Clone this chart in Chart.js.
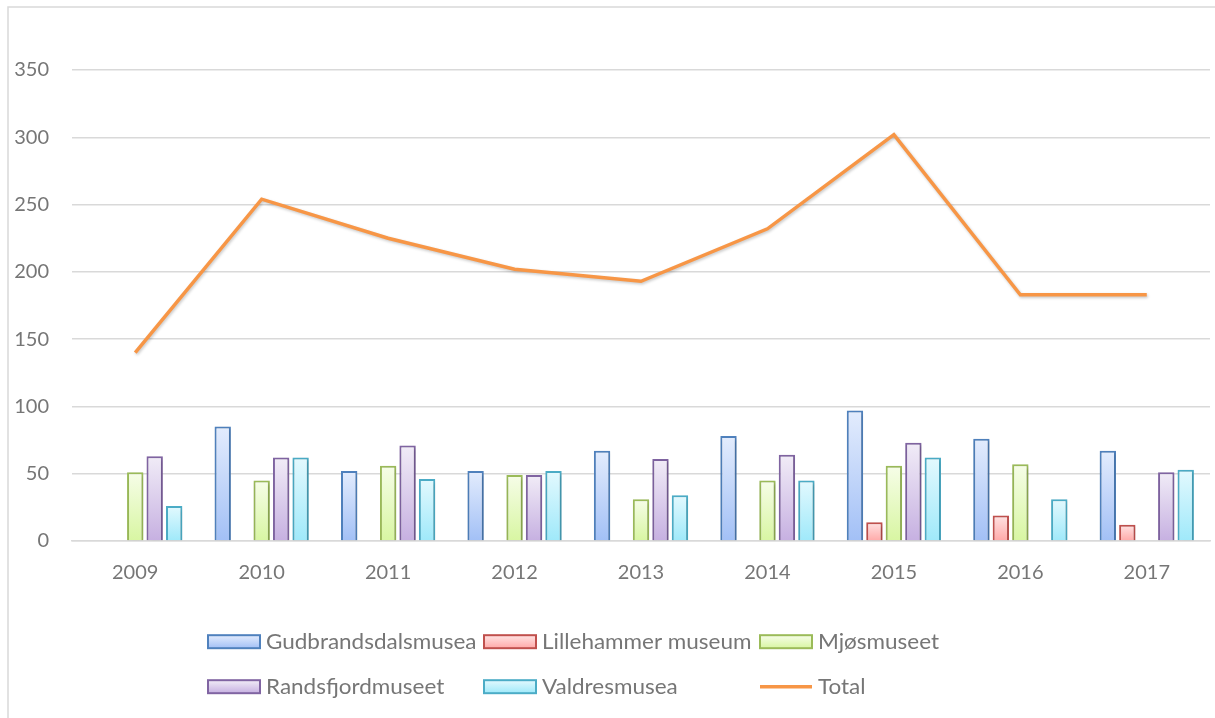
<!DOCTYPE html>
<html>
<head>
<meta charset="utf-8">
<script src="https://cdn.jsdelivr.net/npm/chart.js@4/dist/chart.umd.min.js"></script>
<style>
  html, body { margin: 0; padding: 0; background: #ffffff; }
  #wrap { width: 1215px; height: 718px; position: relative; }
</style>
</head>
<body>
<div id="wrap"><canvas id="c" width="1215" height="718"></canvas></div>
<script>
// ---- data ----
const categories = ['2009', '2010', '2011', '2012', '2013', '2014', '2015', '2016', '2017'];
const gudbrandsdalsmusea = [null, 85, 52, 52, 67, 78, 97, 76, 67];
const lillehammerMuseum  = [null, null, null, null, null, null, 14, 19, 12];
const mjosmuseet         = [51, 45, 56, 49, 31, 45, 56, 57, null];
const randsfjordmuseet   = [63, 62, 71, 49, 61, 64, 73, null, 51];
const valdresmusea       = [26, 62, 46, 52, 34, 45, 62, 31, 53];
const total              = [140, 254, 225, 202, 193, 232, 302, 183, 183];
const seriesNames = ['Gudbrandsdalsmusea', 'Lillehammer museum', 'Mjøsmuseet', 'Randsfjordmuseet', 'Valdresmusea', 'Total'];
const yMin = 0, yMax = 350, yStep = 50;

// ---- styles ----
const barStyles = [
  { top: '#e3ecfd', bottom: '#a2c0f6', border: '#4f81bd' },
  { top: '#ffe3e3', bottom: '#ffa9a8', border: '#c0504d' },
  { top: '#f6fde8', bottom: '#d8f6a2', border: '#9bbb59' },
  { top: '#f1ecf7', bottom: '#c6b0e1', border: '#8064a2' },
  { top: '#e3f9fe', bottom: '#9fe9fa', border: '#4bacc6' }
];
const lineColor = '#f79646';
const FONT = 'Lato, "Open Sans", sans-serif';
const TEXT_COLOR = '#767676';

function gradFill(style) {
  return function (ctx) {
    const chart = ctx.chart;
    const ys = chart.scales && chart.scales.y;
    if (ctx.type !== 'data' || !ys || ctx.raw == null) return style.bottom;
    const yTop = ys.getPixelForValue(ctx.raw);
    const yBot = ys.getPixelForValue(0);
    if (!isFinite(yTop) || !isFinite(yBot) || yTop === yBot) return style.bottom;
    const g = chart.ctx.createLinearGradient(0, yTop, 0, yBot);
    g.addColorStop(0, style.top);
    g.addColorStop(1, style.bottom);
    return g;
  };
}

const barData = [gudbrandsdalsmusea, lillehammerMuseum, mjosmuseet, randsfjordmuseet, valdresmusea];
const datasets = barData.map((d, i) => ({
  type: 'bar',
  label: seriesNames[i],
  data: d,
  backgroundColor: gradFill(barStyles[i]),
  borderColor: barStyles[i].border,
  borderWidth: 2,
  categoryPercentage: 0.77,
  barPercentage: 0.84
}));
datasets.push({
  type: 'line',
  label: seriesNames[5],
  data: total,
  borderColor: lineColor,
  borderWidth: 3.5,
  pointRadius: 0,
  tension: 0,
  fill: false,
  order: -1,
  borderJoinStyle: 'miter'
});

const framePlugin = {
  id: 'frame',
  beforeDraw(chart) {
    const c = chart.ctx;
    c.save();
    c.fillStyle = '#ffffff';
    c.fillRect(0, 0, chart.width, chart.height);
    c.strokeStyle = '#d9d9d9';
    c.lineWidth = 1.5;
    c.beginPath();
    c.moveTo(8, chart.height);
    c.lineTo(8, 7);
    c.lineTo(chart.width, 7);
    c.stroke();
    c.restore();
  }
};

const shadowPlugin = {
  id: 'shadow',
  beforeDatasetDraw(chart) {
    const c = chart.ctx;
    c.save();
    c.shadowColor = 'rgba(0,0,0,0.22)';
    c.shadowBlur = 3;
    c.shadowOffsetX = 1;
    c.shadowOffsetY = 1.5;
  },
  afterDatasetDraw(chart) {
    chart.ctx.restore();
  }
};

const legendPlugin = {
  id: 'gridLegend',
  afterDraw(chart) {
    const c = chart.ctx;
    const cols = [208, 484, 760];
    const rows = [641.7, 686.7];
    const boxW = 52, boxH = 13, textGap = 58, sx = 1.07;
    c.save();
    c.font = '21px ' + FONT;
    c.textBaseline = 'middle';
    chart.data.datasets.forEach((ds, i) => {
      const x = cols[i % 3];
      const y = rows[Math.floor(i / 3)];
      if (ds.type === 'line') {
        c.strokeStyle = ds.borderColor;
        c.lineWidth = 3.5;
        c.beginPath();
        c.moveTo(x, y);
        c.lineTo(x + boxW, y);
        c.stroke();
      } else {
        const st = barStyles[i];
        const g = c.createLinearGradient(0, y - boxH / 2, 0, y + boxH / 2);
        g.addColorStop(0, st.top);
        g.addColorStop(1, st.bottom);
        c.fillStyle = g;
        c.fillRect(x, y - boxH / 2, boxW, boxH);
        c.strokeStyle = st.border;
        c.lineWidth = 2;
        c.strokeRect(x, y - boxH / 2, boxW, boxH);
      }
      c.fillStyle = TEXT_COLOR;
      c.save();
      c.translate(x + textGap, y + 1);
      c.scale(sx, 1);
      c.fillText(ds.label, 0, 0);
      c.restore();
    });
    c.restore();
  }
};

new Chart(document.getElementById('c'), {
  type: 'bar',
  data: { labels: categories, datasets },
  options: {
    responsive: false,
    animation: false,
    layout: { padding: { top: 70, left: 0, right: 5, bottom: 0 } },
    plugins: {
      legend: { display: false },
      tooltip: { enabled: false },
      title: { display: false }
    },
    scales: {
      x: {
        offset: true,
        grid: { display: false, drawTicks: false },
        border: { display: true, color: '#d9d9d9', width: 1.5 },
        ticks: { color: TEXT_COLOR, font: { family: FONT, size: 20 }, padding: 20, maxRotation: 0 },
        afterFit(scale) { scale.height = 177; }
      },
      y: {
        min: yMin,
        max: yMax,
        grid: { color: '#d9d9d9', lineWidth: 1.5, drawTicks: false },
        border: { display: false },
        ticks: { stepSize: yStep, color: TEXT_COLOR, font: { family: FONT, size: 20 }, padding: 23 },
        afterFit(scale) { scale.width = 72; }
      }
    }
  },
  plugins: [framePlugin, shadowPlugin, legendPlugin]
});
</script>
</body>
</html>
